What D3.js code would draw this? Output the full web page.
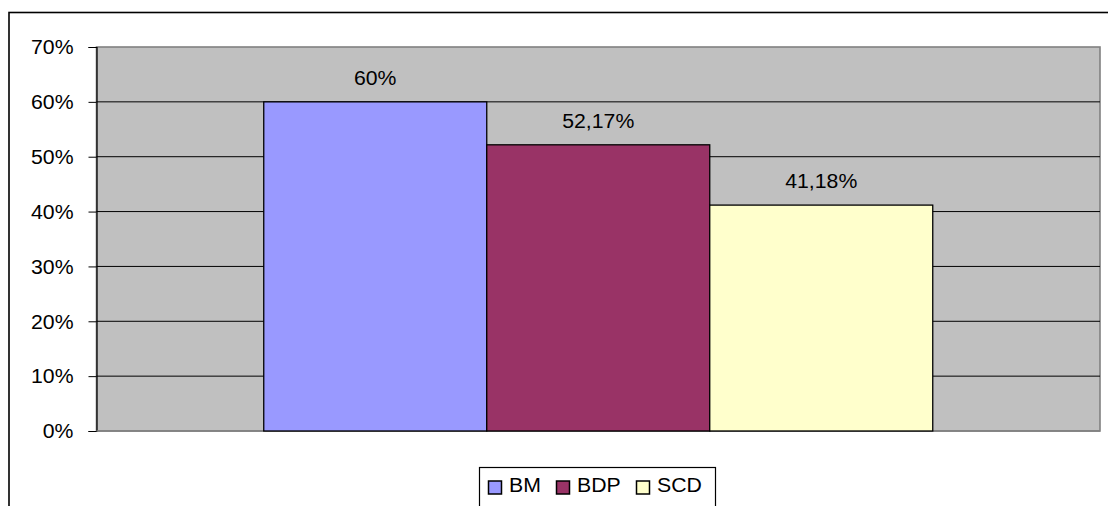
<!DOCTYPE html>
<html>
<head>
<meta charset="utf-8">
<script src="https://cdn.jsdelivr.net/npm/d3@7"></script>
<style>
  html, body { margin: 0; padding: 0; background: #fff; }
  svg { display: block; }
  text { font-family: "Liberation Sans", Arial, sans-serif; fill: #000; }
</style>
</head>
<body>
<svg id="chart" width="1108" height="506"></svg>
<script>
// Chart data
const seriesNames = ["BM", "BDP", "SCD"];
const seriesValues = [60, 52.17, 41.18];
const seriesLabels = ["60%", "52,17%", "41,18%"];
const seriesColors = ["#9999FF", "#993366", "#FFFFCC"];
const yTicks = [0, 10, 20, 30, 40, 50, 60, 70];

const svg = d3.select("#chart");
const W = 1108, H = 506;
const plot = { left: 96.5, right: 1100, top: 47, bottom: 431 };
const fontSize = 19.5;
const stretch = 1.09;

// Outer chart frame (extends past the visible window on right/bottom)
svg.append("rect")
  .attr("x", 9).attr("y", 12.5)
  .attr("width", W + 20).attr("height", H + 20)
  .attr("fill", "#fff").attr("stroke", "#000").attr("stroke-width", 1.6);

const y = d3.scaleLinear().domain([0, 70]).range([plot.bottom, plot.top]);
const x = d3.scaleBand().domain(seriesNames)
  .range([plot.left, plot.right]).paddingInner(0).paddingOuter(0.75);

// Plot area background
svg.append("rect")
  .attr("x", plot.left).attr("y", plot.top)
  .attr("width", plot.right - plot.left).attr("height", plot.bottom - plot.top)
  .attr("fill", "#C0C0C0").attr("stroke", "#808080").attr("stroke-width", 1.6);

// Gridlines
svg.append("g").selectAll("line")
  .data(yTicks.filter(t => t > 0 && t < 70))
  .join("line")
  .attr("x1", plot.left).attr("x2", plot.right)
  .attr("y1", d => y(d)).attr("y2", d => y(d))
  .attr("stroke", "#000").attr("stroke-width", 1);

// Y axis
const yAxis = d3.axisLeft(y).tickValues(yTicks)
  .tickFormat(d => d + "%").tickSize(8).tickPadding(15);
const gy = svg.append("g").attr("transform", `translate(${plot.left},0)`).call(yAxis);
gy.select(".domain").attr("stroke", "#000").attr("stroke-width", 1.2);
gy.selectAll(".tick line").attr("stroke", "#000").attr("stroke-width", 1);
gy.selectAll(".tick text")
  .attr("font-size", fontSize)
  .attr("font-family", "Liberation Sans, Arial, sans-serif")
  .attr("fill", "#000")
  .attr("dy", "0.35em")
  .each(function () {
    // widen glyphs slightly while keeping the right edge anchored
    const t = d3.select(this);
    const xx = +t.attr("x");
    t.attr("transform", `scale(${stretch},1)`).attr("x", xx / stretch);
  });

// Bottom axis line
svg.append("line")
  .attr("x1", plot.left).attr("x2", plot.right)
  .attr("y1", plot.bottom).attr("y2", plot.bottom)
  .attr("stroke", "#808080").attr("stroke-width", 1.6);

// Bars
svg.append("g").selectAll("rect")
  .data(seriesNames)
  .join("rect")
  .attr("x", d => x(d))
  .attr("y", (d, i) => y(seriesValues[i]))
  .attr("width", x.bandwidth())
  .attr("height", (d, i) => y(0) - y(seriesValues[i]))
  .attr("fill", (d, i) => seriesColors[i])
  .attr("stroke", "#000").attr("stroke-width", 1.3);

// Value labels
svg.append("g").selectAll("text")
  .data(seriesNames)
  .join("text")
  .attr("transform", (d, i) =>
    `translate(${x(d) + x.bandwidth() / 2},${y(seriesValues[i]) - 17}) scale(${stretch},1)`)
  .attr("text-anchor", "middle")
  .attr("font-size", fontSize)
  .text((d, i) => seriesLabels[i]);

// Legend
const legend = svg.append("g");
legend.append("rect")
  .attr("x", 479.5).attr("y", 467.5)
  .attr("width", 236).attr("height", 60)
  .attr("fill", "#fff").attr("stroke", "#000").attr("stroke-width", 1.2);
const legendX = [488, 556, 636];
const items = legend.selectAll("g.item")
  .data(seriesNames)
  .join("g").attr("class", "item")
  .attr("transform", (d, i) => `translate(${legendX[i]},481)`);
items.append("rect")
  .attr("x", 0.5).attr("y", 0)
  .attr("width", 13).attr("height", 13)
  .attr("fill", (d, i) => seriesColors[i])
  .attr("stroke", "#000").attr("stroke-width", 1.5);
items.append("text")
  .attr("transform", `translate(21,11) scale(${stretch},1)`)
  .attr("font-size", fontSize)
  .text(d => d);
</script>
</body>
</html>
